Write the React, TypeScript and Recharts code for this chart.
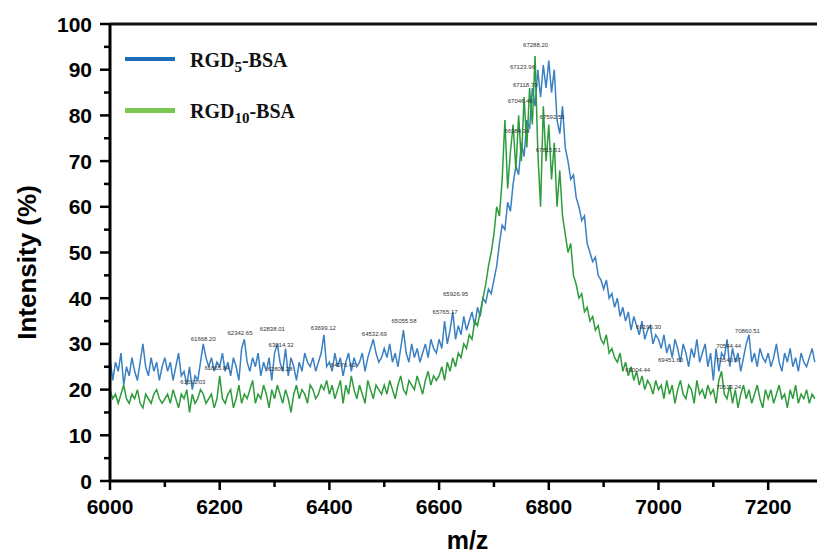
import React from 'react';
import { ComposedChart, Line, XAxis, YAxis, ReferenceLine, ReferenceDot, Legend } from 'recharts';

// m/z grid: 6000 .. 7285, step 5
const MZ_START = 6000;
const MZ_STEP = 5;

// RGD5-BSA intensity (%), one row per 100 m/z
const rgd5 = [
  27,22,26,24,28,21,25,23,27,24,22,26,30,25,23,27,24,26,22,25,
  27,24,26,22,25,28,23,24,21,25,20,23,22,26,30,27,25,27,24,26,
  25,28,24,26,23,27,25,22,29,31,26,24,27,25,28,23,26,24,27,22,
  28,30,26,24,29,23,27,25,22,26,24,28,26,25,27,24,26,28,32,25,
  26,24,28,25,27,23,26,28,24,27,25,26,28,24,27,29,31,28,26,27,
  29,27,30,26,28,25,29,33,28,26,30,27,29,26,28,30,27,31,29,28,
  31,29,35,30,33,37,31,34,32,36,33,35,37,34,38,36,40,39,42,41,
  44,47,52,56,55,61,59,65,69,67,74,71,79,77,86,82,90,84,91,86,
  92,85,90,79,76,82,73,70,66,67,62,60,57,58,52,50,48,49,45,44,
  42,44,40,41,38,40,36,38,35,37,33,36,34,32,35,31,33,34,30,32,
  31,29,32,28,30,27,31,29,26,30,28,25,29,27,31,26,28,30,25,28,
  22,29,24,28,27,31,25,29,26,28,24,27,30,32,26,28,25,29,27,26,
  28,25,27,30,26,24,28,26,29,25,27,24,28,26,25,27,29,26,
];

// RGD10-BSA intensity (%)
const rgd10 = [
  20,18,19,17,19,21,18,17,19,18,20,17,16,19,18,17,19,20,18,17,
  18,19,17,20,18,16,19,18,20,15,19,17,18,20,19,17,18,19,16,18,
  23,18,17,19,20,16,18,21,17,19,18,20,22,17,19,18,21,19,16,20,
  18,21,19,17,20,18,15,19,21,18,20,19,17,21,20,18,19,21,20,22,
  19,21,18,20,22,17,21,19,23,20,18,21,19,17,22,20,18,21,20,19,
  21,19,22,20,18,21,23,20,19,22,21,20,23,21,19,22,24,21,23,22,
  23,25,22,26,24,27,25,28,27,30,29,32,31,35,34,37,40,43,47,50,
  54,60,58,66,79,64,72,78,68,80,70,84,73,86,78,93,72,60,82,70,
  78,66,74,60,68,58,54,50,52,45,43,40,41,37,38,35,36,33,34,31,
  30,32,28,29,27,26,28,24,26,23,25,22,24,21,23,20,22,21,19,22,
  20,21,18,22,19,21,17,20,22,19,18,21,20,17,22,19,20,18,21,19,
  20,17,22,24,19,18,21,17,20,16,19,21,18,20,17,19,21,18,16,20,
  18,20,17,19,21,18,19,16,20,18,21,17,19,18,20,17,19,18,
];

const xTicks = [6000,6100,6200,6300,6400,6500,6600,6700,6800,6900,7000,7100,7200];
const yTicks = [0,5,10,15,20,25,30,35,40,45,50,55,60,65,70,75,80,85,90,95,100];

// small peak annotations (m/z, intensity where the label sits, text)
const peakLabels = [
  { x: 6170, y: 31.2, t: '61668.20' },
  { x: 6237, y: 32.5, t: '62342.65' },
  { x: 6296, y: 33.3, t: '62838.01' },
  { x: 6312, y: 29.8, t: '63014.32' },
  { x: 6389, y: 33.6, t: '63699.12' },
  { x: 6482, y: 32.2, t: '64532.69' },
  { x: 6536, y: 35.1, t: '65055.58' },
  { x: 6611, y: 37.0, t: '65765.17' },
  { x: 6630, y: 41.0, t: '65926.95' },
  { x: 6776, y: 95.4, t: '67288.20' },
  { x: 6752, y: 90.6, t: '67123.96' },
  { x: 6757, y: 86.7, t: '67118.79' },
  { x: 6748, y: 83.2, t: '67046.46' },
  { x: 6806, y: 79.7, t: '67592.56' },
  { x: 6742, y: 76.7, t: '66984.34' },
  { x: 6799, y: 72.5, t: '67815.51' },
  { x: 6982, y: 33.8, t: '69196.30' },
  { x: 7162, y: 32.9, t: '70860.51' },
  { x: 7128, y: 29.6, t: '70544.44' },
  { x: 7128, y: 26.6, t: '70540.97' },
  { x: 7128, y: 20.5, t: '70513.24' },
  { x: 6962, y: 24.4, t: '69004.44' },
  { x: 7022, y: 26.4, t: '69451.60' },
  { x: 6151, y: 21.6, t: '61513.03' },
  { x: 6195, y: 24.8, t: '61865.84' },
  { x: 6310, y: 24.6, t: '62809.28' },
  { x: 6425, y: 25.5, t: '64076.43' },
];

const data = rgd5.map((v, i) => ({ mz: MZ_START + i * MZ_STEP, rgd5: v, rgd10: rgd10[i] }));

const AXIS_FONT = '"Liberation Sans", Arial, sans-serif';

const YTick = (props: any) => {
  const { x, y, payload } = props;
  const major = payload.value % 10 === 0;
  return (
    <g>
      <line x1={x - (major ? 10 : 6)} x2={x} y1={y} y2={y} stroke="#000" strokeWidth={2.5} />
      {major && (
        <text x={x - 18} y={y} dy="0.36em" textAnchor="end" fontFamily={AXIS_FONT} fontWeight="bold" fontSize={21} fill="#000">
          {payload.value}
        </text>
      )}
    </g>
  );
};

const XTick = (props: any) => {
  const { x, y, payload } = props;
  const major = payload.value % 200 === 0;
  return (
    <g>
      <line x1={x} x2={x} y1={y} y2={y + (major ? 9 : 6)} stroke="#000" strokeWidth={2.5} />
      {major && (
        <text x={x} y={y + 25} dy="0.36em" textAnchor="middle" fontFamily={AXIS_FONT} fontWeight="bold" fontSize={21} fill="#000">
          {payload.value}
        </text>
      )}
    </g>
  );
};

const YLabel = (props: any) => {
  const vb = props.viewBox || { x: 10, y: 24, width: 100, height: 457 };
  const cx = vb.x + 26;
  const cy = vb.y + vb.height / 2 + 10;
  return (
    <text x={cx} y={cy} transform={`rotate(-90, ${cx}, ${cy})`} textAnchor="middle" fontFamily={AXIS_FONT} fontWeight="bold" fontSize={26} fill="#000">
      Intensity (%)
    </text>
  );
};

const XLabel = (props: any) => {
  const vb = props.viewBox || { x: 110, y: 481, width: 707, height: 76 };
  const cx = vb.x + vb.width / 2 + 4;
  const cy = vb.y + 68;
  return (
    <text x={cx} y={cy} textAnchor="middle" fontFamily={AXIS_FONT} fontWeight="bold" fontSize={25} fill="#000">
      m/z
    </text>
  );
};

const legendItems = [
  { name: 'RGD', sub: '5', rest: '-BSA', color: '#1f6cb6', lineTop: 56.5, textTop: 50 },
  { name: 'RGD', sub: '10', rest: '-BSA', color: '#7cc653', lineTop: 108, textTop: 100.5 },
];

const renderLegend = () => (
  <div style={{ position: 'relative', height: 0, width: 0 }}>
    {legendItems.map((it) => (
      <React.Fragment key={it.sub}>
        <div style={{ position: 'absolute', left: 125, top: it.lineTop, width: 50, height: 4.5, background: it.color }} />
        <div
          style={{
            position: 'absolute',
            left: 190,
            top: it.textTop,
            whiteSpace: 'nowrap',
            fontFamily: '"Liberation Serif", "Times New Roman", serif',
            fontWeight: 'bold',
            fontSize: 20,
            lineHeight: '20px',
            color: '#111',
          }}
        >
          {it.name}
          <span style={{ fontSize: 15, position: 'relative', top: 5 }}>{it.sub}</span>
          {it.rest}
        </div>
      </React.Fragment>
    ))}
  </div>
);

export default function App() {
  return (
    <div style={{ width: 817, height: 557, background: '#fff', position: 'relative', overflow: 'hidden' }}>
      <style>{'body{margin:0;background:#fff;}'}</style>
      <ComposedChart width={817} height={557} data={data} margin={{ top: 24, right: 0, bottom: 0, left: 10 }}>
        <XAxis
          dataKey="mz"
          type="number"
          domain={[6000, 7289]}
          ticks={xTicks}
          interval={0}
          tickSize={0}
          tickMargin={0}
          tickLine={false}
          tick={<XTick />}
          height={76}
          axisLine={{ stroke: '#000', strokeWidth: 3 }}
          allowDataOverflow
          label={<XLabel />}
        />
        <YAxis
          type="number"
          domain={[0, 100]}
          ticks={yTicks}
          interval={0}
          tickSize={0}
          tickMargin={0}
          tickLine={false}
          tick={<YTick />}
          width={100}
          axisLine={{ stroke: '#000', strokeWidth: 3 }}
          label={<YLabel />}
        />
        <ReferenceLine y={100} stroke="#111" strokeWidth={3} />
        <Legend content={renderLegend} wrapperStyle={{ left: 0, top: 0, width: 0, height: 0 }} />
        <Line dataKey="rgd5" stroke="#3a80c3" strokeWidth={1.5} dot={false} isAnimationActive={false} legendType="none" />
        <Line dataKey="rgd10" stroke="#2f9c3c" strokeWidth={1.5} dot={false} isAnimationActive={false} legendType="none" />
        {peakLabels.map((p) => (
          <ReferenceDot
            key={p.t + p.y}
            x={p.x}
            y={p.y}
            r={0}
            stroke="none"
            fill="none"
            label={{ value: p.t, position: 'center', fontSize: 6, fill: '#333', fontFamily: AXIS_FONT }}
          />
        ))}
      </ComposedChart>
    </div>
  );
}
